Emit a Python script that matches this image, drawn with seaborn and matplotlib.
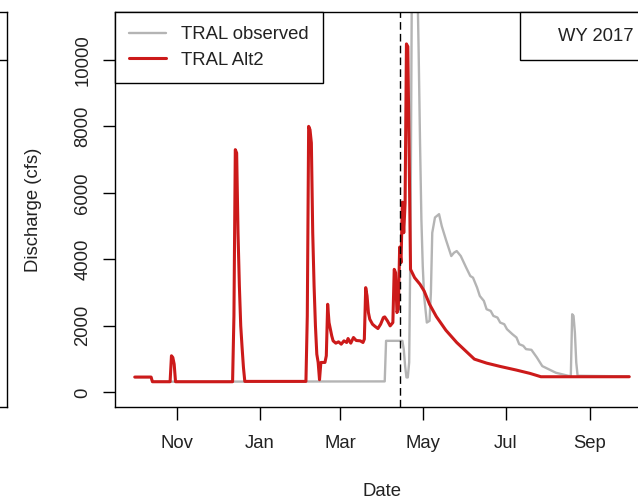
import numpy as np
import pandas as pd
import matplotlib
matplotlib.use("Agg")
import matplotlib.pyplot as plt
from matplotlib.lines import Line2D
import seaborn as sns

# ---------------- data ----------------
obs_dates = ["2016-10-01", "2016-10-13", "2016-10-14", "2017-04-03", "2017-04-04",
             "2017-04-16", "2017-04-17", "2017-04-18", "2017-04-19", "2017-04-20",
             "2017-04-21", "2017-04-22", "2017-04-23", "2017-04-25", "2017-04-27",
             "2017-04-28", "2017-04-29", "2017-04-30", "2017-05-01", "2017-05-02",
             "2017-05-04", "2017-05-06", "2017-05-07", "2017-05-08", "2017-05-10",
             "2017-05-13", "2017-05-15", "2017-05-18", "2017-05-22", "2017-05-24",
             "2017-05-26", "2017-05-29", "2017-06-02", "2017-06-05", "2017-06-07",
             "2017-06-10", "2017-06-12", "2017-06-15", "2017-06-17", "2017-06-20",
             "2017-06-22", "2017-06-25", "2017-06-27", "2017-06-30", "2017-07-02",
             "2017-07-06", "2017-07-09", "2017-07-11", "2017-07-14", "2017-07-16",
             "2017-07-20", "2017-07-24", "2017-07-28", "2017-08-02", "2017-08-07",
             "2017-08-12", "2017-08-17", "2017-08-18", "2017-08-19", "2017-08-20",
             "2017-08-21", "2017-08-22", "2017-08-23", "2017-09-30"]
obs_cfs = [460, 460, 320, 330, 1550,
           1550, 1300, 800, 450, 450,
           900, 4800, 12500, 14000, 12500,
           10200, 7500, 5200, 3800, 2900,
           2100, 2150, 3000, 4800, 5260,
           5360, 5000, 4600, 4100, 4200,
           4250, 4100, 3750, 3500, 3450,
           3150, 2900, 2750, 2500, 2450,
           2300, 2250, 2100, 2050, 1900,
           1750, 1650, 1450, 1400, 1300,
           1280, 1050, 790, 690, 590,
           540, 490, 500, 2350, 2300,
           1800, 900, 500, 480]

alt_dates = ["2016-10-01", "2016-10-13", "2016-10-14", "2016-10-27", "2016-10-28",
             "2016-10-29", "2016-10-30", "2016-10-31", "2016-12-12", "2016-12-13",
             "2016-12-14", "2016-12-15", "2016-12-16", "2016-12-17", "2016-12-18",
             "2016-12-19", "2016-12-20", "2016-12-21", "2017-02-04", "2017-02-05",
             "2017-02-06", "2017-02-07", "2017-02-08", "2017-02-09", "2017-02-10",
             "2017-02-11", "2017-02-12", "2017-02-13", "2017-02-14", "2017-02-15",
             "2017-02-18", "2017-02-19", "2017-02-20", "2017-02-21", "2017-02-22",
             "2017-02-23", "2017-02-24", "2017-02-26", "2017-02-28", "2017-03-02",
             "2017-03-04", "2017-03-06", "2017-03-07", "2017-03-09", "2017-03-11",
             "2017-03-13", "2017-03-16", "2017-03-18", "2017-03-19", "2017-03-20",
             "2017-03-21", "2017-03-22", "2017-03-23", "2017-03-25", "2017-03-27",
             "2017-03-29", "2017-03-31", "2017-04-02", "2017-04-03", "2017-04-05",
             "2017-04-07", "2017-04-09", "2017-04-10", "2017-04-11", "2017-04-12",
             "2017-04-13", "2017-04-14", "2017-04-15", "2017-04-16", "2017-04-17",
             "2017-04-18", "2017-04-19", "2017-04-20", "2017-04-21", "2017-04-22",
             "2017-04-25", "2017-04-29", "2017-05-02", "2017-05-06", "2017-05-11",
             "2017-05-18", "2017-05-26", "2017-06-02", "2017-06-08", "2017-06-17",
             "2017-06-27", "2017-07-09", "2017-07-19", "2017-07-27", "2017-09-30"]
alt_cfs = [460, 460, 320, 320, 1100,
           1050, 850, 320, 320, 2300,
           7300, 7200, 4800, 3200, 2000,
           1350, 750, 330, 330, 2300,
           8000, 7900, 7500, 4800, 3200,
           2000, 1150, 900, 380, 900,
           900, 1100, 2650, 2100, 1900,
           1700, 1550, 1480, 1520, 1450,
           1550, 1500, 1620, 1480, 1650,
           1560, 1550, 1500, 1600, 3150,
           2900, 2400, 2200, 2050, 1980,
           1920, 2050, 2250, 2270, 2150,
           2000, 2100, 3700, 3600, 2400,
           2500, 4370, 3900, 5720, 4800,
           5700, 10480, 10400, 7100, 3700,
           3450, 3250, 3050, 2650, 2280,
           1870, 1500, 1230, 1000, 880,
           780, 670, 570, 470, 470]

series_labels = ["TRAL observed", "TRAL Alt2"]
panel_label = "WY 2017"
event_date = "2017-04-14"
month_ticks = ["2016-11-01", "2017-01-01", "2017-03-01", "2017-05-01", "2017-07-01", "2017-09-01"]
month_labels = ["Nov", "Jan", "Mar", "May", "Jul", "Sep"]
y_ticks = [0, 2000, 4000, 6000, 8000, 10000]
y_range = (0, 11000)

# ---------------- style ----------------
sns.set_style("white")
plt.rcParams['font.family'] = ['Liberation Sans', 'DejaVu Sans']
FS = 13.3
GREY = '#B4B4B4'
RED = '#CC1A1A'
TXT = '#222222'

W, H = 638, 499
fig = plt.figure(figsize=(W / 100, H / 100), dpi=100)
fig.patch.set_facecolor('white')

# main panel (its right side runs past the cropped image edge)
ax = fig.add_axes([115 / W, (H - 407) / H, 534 / W, 395 / H])
# right edge of the neighbouring panel, visible at the far left
ax0 = fig.add_axes([-0.5, (H - 407) / H, 0.5 + 7 / W, 395 / H])

df_obs = pd.DataFrame({"date": pd.to_datetime(obs_dates), "cfs": obs_cfs})
df_alt = pd.DataFrame({"date": pd.to_datetime(alt_dates), "cfs": alt_cfs})

sns.lineplot(data=df_obs, x="date", y="cfs", ax=ax, color=GREY, lw=1.7,
             estimator=None, sort=False, legend=False)
sns.lineplot(data=df_alt, x="date", y="cfs", ax=ax, color=RED, lw=2.2,
             estimator=None, sort=False, legend=False)

ax.axvline(pd.Timestamp(event_date), color='black', lw=1.0, linestyle=(0, (5.5, 3.0)))

# R-style 4% axis expansion
d0, d1 = df_alt["date"].min(), df_alt["date"].max()
span = d1 - d0
ax.set_xlim(d0 - 0.04 * span, d1 + 0.04 * span)
yr = y_range[1] - y_range[0]
ax.set_ylim(y_range[0] - 0.04 * yr, y_range[1] + 0.04 * yr)

ax.set_xticks(pd.to_datetime(month_ticks))
ax.set_xticklabels(month_labels)
ax.set_yticks(y_ticks)
ax.set_yticklabels([str(v) for v in y_ticks])
ax.tick_params(axis='both', which='major', direction='out', length=9, width=1.0,
               color='black', labelsize=FS, labelcolor=TXT, bottom=True, left=True)
ax.tick_params(axis='x', pad=11)
ax.tick_params(axis='y', pad=8)
for lab in ax.get_yticklabels():
    lab.set_rotation(90)
    lab.set_va('center')
ax.grid(False)
for s in ax.spines.values():
    s.set_visible(True)
    s.set_color('black')
    s.set_linewidth(1.0)

ax.set_xlabel("Date", fontsize=FS, color=TXT)
ax.set_ylabel("Discharge (cfs)", fontsize=FS, color=TXT)
ax.xaxis.set_label_coords(0.5, -(491 - 407) / 395)
ax.xaxis.label.set_va('center')
ax.yaxis.set_label_coords(-(115 - 33) / 534, 0.5)
ax.yaxis.label.set_va('center')

handles = [Line2D([], [], color=GREY, lw=1.7), Line2D([], [], color=RED, lw=2.2)]
leg = ax.legend(handles, series_labels, loc='upper left', bbox_to_anchor=(0, 1),
                borderaxespad=0, frameon=True, fancybox=False, edgecolor='black',
                framealpha=1, fontsize=FS, handlelength=2.0, handletextpad=0.8,
                borderpad=0.78, labelspacing=0.45)
leg.get_frame().set_linewidth(1.0)
for t in leg.get_texts():
    t.set_color(TXT)
ax.add_artist(leg)

leg2 = ax.legend([Line2D([], [], linestyle='none')], [panel_label], loc='upper right',
                 bbox_to_anchor=(1, 1), borderaxespad=0, frameon=True, fancybox=False,
                 edgecolor='black', framealpha=1, fontsize=FS, handlelength=1.1,
                 handletextpad=0.1, borderpad=0.85)
leg2.get_frame().set_linewidth(1.0)
for t in leg2.get_texts():
    t.set_color(TXT)

ax0.set_xticks([])
ax0.set_yticks([])
for s in ax0.spines.values():
    s.set_visible(True)
    s.set_color('black')
    s.set_linewidth(1.0)
ax0.plot([0.9, 1.0], [(407 - 60) / 395] * 2, transform=ax0.transAxes,
         color='black', lw=1.0, clip_on=False)

fig.savefig("out.png", dpi=100)
